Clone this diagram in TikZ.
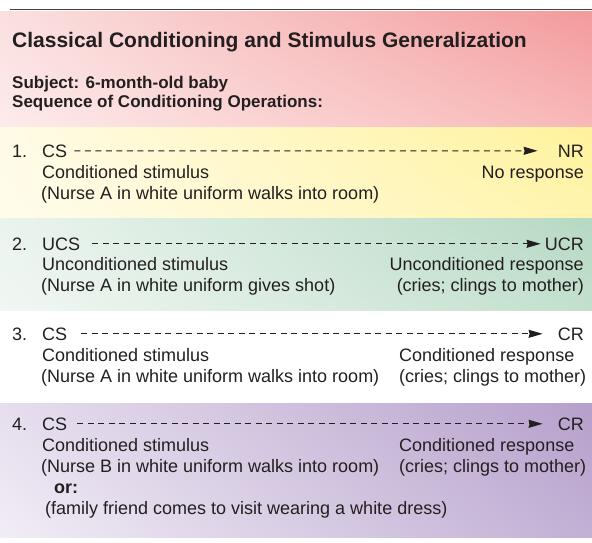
\documentclass[tikz,border=0pt]{standalone}
\usepackage{fontspec}
\setmainfont{Liberation Sans}
\usetikzlibrary{arrows.meta,shadings}

\definecolor{ink}{HTML}{231F20}
\definecolor{redLL}{HTML}{FDEBEB}
\definecolor{redUL}{HTML}{FBE0E0}
\definecolor{redLR}{HTML}{F8B8B8}
\definecolor{redUR}{HTML}{F39A9B}
\definecolor{yelLL}{HTML}{FFFCEC}
\definecolor{yelUL}{HTML}{FFFBE6}
\definecolor{yelLR}{HTML}{FFF4AE}
\definecolor{yelUR}{HTML}{FFF29C}
\definecolor{grnLL}{HTML}{F1F7F3}
\definecolor{grnUL}{HTML}{EAF4EE}
\definecolor{grnLR}{HTML}{C3E0CD}
\definecolor{grnUR}{HTML}{B6D9C3}
\definecolor{purLL}{HTML}{F1EDF5}
\definecolor{purUL}{HTML}{E6DEEE}
\definecolor{purLR}{HTML}{C2B0D5}
\definecolor{purUR}{HTML}{B6A0CB}

\begin{document}
\begin{tikzpicture}[x=1pt,y=-1pt,
  every node/.style={inner sep=0pt,text=ink,font=\fontsize{18}{21.6}\selectfont},
  txt/.style={anchor=base west},
  rtxt/.style={anchor=base east},
  head/.style={font=\bfseries\fontsize{17}{20}\selectfont},
  lead/.style={draw=ink,line width=1pt,dash pattern=on 6pt off 4.5pt,
    -{Stealth[length=14pt,width=8pt,inset=1pt]}}]
  \useasboundingbox (0,0) rectangle (592,542);

  % colour bands
  \shade[upper left=redUL,upper right=redUR,lower left=redLL,lower right=redLR]
    (0,11) rectangle (592,127);
  \shade[upper left=yelUL,upper right=yelUR,lower left=yelLL,lower right=yelLR]
    (0,127) rectangle (592,218);
  \shade[upper left=grnUL,upper right=grnUR,lower left=grnLL,lower right=grnLR]
    (0,218) rectangle (592,310);
  \shade[upper left=purUL,upper right=purUR,lower left=purLL,lower right=purLR]
    (0,403) rectangle (592,537);
  \draw[ink!85,line width=1.2pt] (10,9.5) -- (592,9.5);

  % heading
  \node[txt,font=\bfseries\fontsize{21}{25}\selectfont] (title) at (12,47)
    {Classical Conditioning and Stimulus Generalization};
  \node[txt,head] (subject) at (12,88) {Subject: 6-month-old baby};
  \node[txt,head] (sequence) at (12,107) {Sequence of Conditioning Operations:};

  % 1.
  \node[txt] (n1) at (12,157) {1.};
  \node[txt] (cs1) at (42,157) {CS};
  \node[rtxt] (nr1) at (584,157) {NR};
  \node[txt] at (42,178) {Conditioned stimulus};
  \node[txt] at (41,199) {(Nurse A in white uniform walks into room)};
  \node[rtxt] at (584,178) {No response};
  \draw[lead,shorten <=7pt,shorten >=20pt] (cs1.east) -- (nr1.west);

  % 2.
  \node[txt] (n2) at (12,250) {2.};
  \node[txt] (ucs2) at (42,250) {UCS};
  \node[rtxt] (ucr2) at (584,250) {UCR};
  \node[txt] at (42,270) {Unconditioned stimulus};
  \node[txt] at (41,291) {(Nurse A in white uniform gives shot)};
  \node[rtxt] at (584,270) {Unconditioned response};
  \node[rtxt] at (584,291) {(cries; clings to mother)};
  \draw[lead,shorten <=12pt,shorten >=4pt] (ucs2.east) -- (ucr2.west);

  % 3.
  \node[txt] (n3) at (12,340) {3.};
  \node[txt] (cs3) at (42,340) {CS};
  \node[rtxt] (cr3) at (584,340) {CR};
  \node[txt] at (42,361) {Conditioned stimulus};
  \node[txt] at (41,382) {(Nurse A in white uniform walks into room)};
  \node[txt] at (399,361) {Conditioned response};
  \node[txt] at (399,382) {(cries; clings to mother)};
  \draw[lead,shorten <=14pt,shorten >=15pt] (cs3.east) -- (cr3.west);

  % 4.
  \node[txt] (n4) at (12,430) {4.};
  \node[txt] (cs4) at (42,430) {CS};
  \node[rtxt] (cr4) at (584,430) {CR};
  \node[txt] at (42,451) {Conditioned stimulus};
  \node[txt] at (41,472) {(Nurse B in white uniform walks into room)};
  \node[txt,font=\bfseries\fontsize{18}{21.6}\selectfont] at (54,493) {or:};
  \node[txt] at (45,514) {(family friend comes to visit wearing a white dress)};
  \node[txt] at (399,451) {Conditioned response};
  \node[txt] at (399,472) {(cries; clings to mother)};
  \draw[lead,shorten <=10pt,shorten >=15pt] (cs4.east) -- (cr4.west);
\end{tikzpicture}
\end{document}
